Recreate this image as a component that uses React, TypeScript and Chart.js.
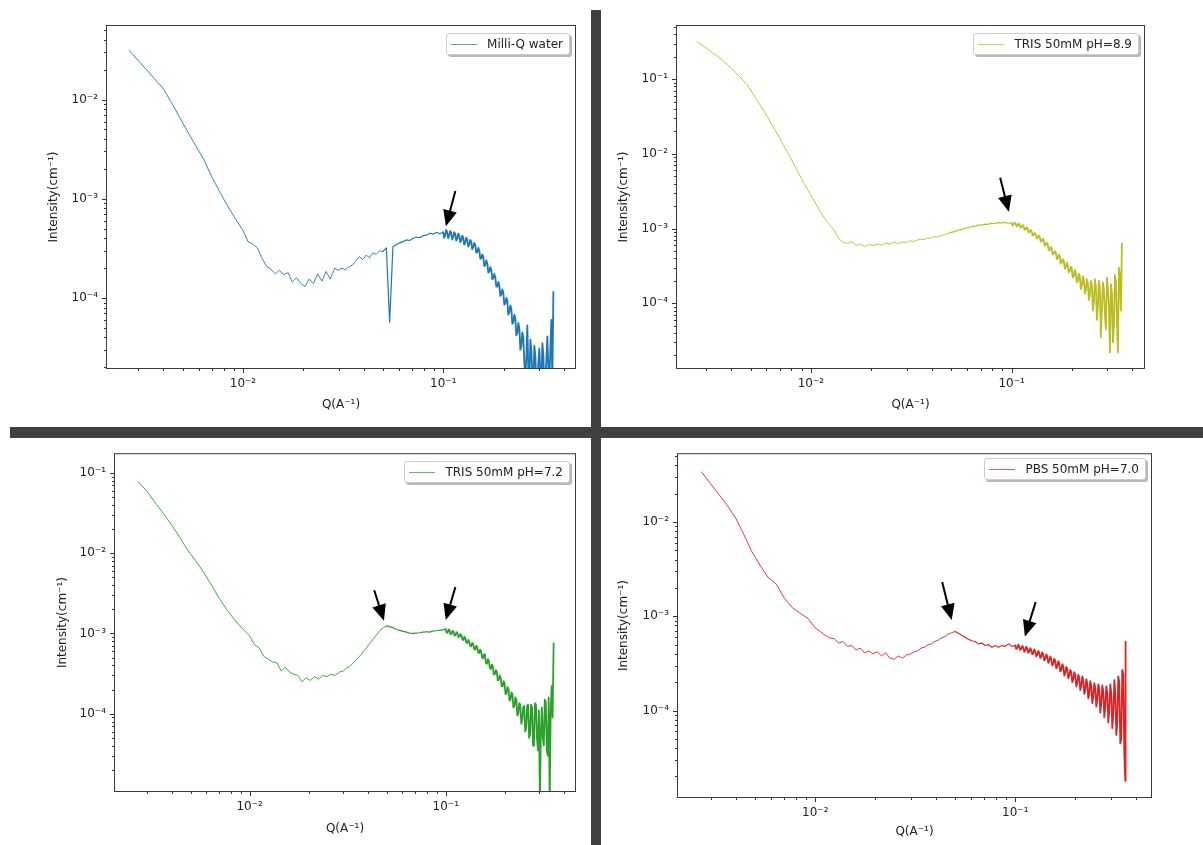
import React, { useEffect, useRef } from 'react';
import { Chart, registerables } from 'chart.js';

Chart.register(...registerables);
Chart.defaults.font.family = "'DejaVu Sans', 'Liberation Sans', sans-serif";

// ---------------- data ----------------
const Q = [
  0.0027, 0.0030, 0.0033, 0.0036, 0.0040, 0.0044, 0.0048, 0.0053, 0.0058, 0.0064, 0.0070, 0.0077, 0.0084, 0.0092,
  0.0100, 0.0106, 0.0112, 0.0118, 0.0124, 0.0131, 0.0138, 0.0145, 0.0152, 0.0160, 0.0168, 0.0176, 0.0185, 0.0194,
  0.0204, 0.0214, 0.0225, 0.0236, 0.0248, 0.0260, 0.0273, 0.0287,
  0.0300, 0.0312, 0.0325, 0.0338, 0.0352, 0.0366, 0.0381, 0.0396, 0.0412, 0.0428, 0.0445, 0.0463, 0.0481, 0.0500,
  0.0520, 0.0540, 0.0561, 0.0583, 0.0606, 0.0630, 0.0655, 0.0680, 0.0707, 0.0735, 0.0764, 0.0794, 0.0825, 0.0857,
  0.0891, 0.0926, 0.0962,
  0.1000, 0.1023, 0.1047, 0.1072, 0.1096, 0.1122, 0.1148, 0.1175, 0.1202, 0.1230,
  0.1259, 0.1288, 0.1318, 0.1349, 0.1380, 0.1413, 0.1445, 0.1479, 0.1514, 0.1549,
  0.1585, 0.1622, 0.1660, 0.1698, 0.1738, 0.1778, 0.1820, 0.1862, 0.1905, 0.1950,
  0.1995, 0.2042, 0.2089, 0.2138, 0.2188, 0.2239, 0.2291, 0.2344, 0.2399, 0.2455,
  0.2512, 0.2570, 0.2630, 0.2692, 0.2754, 0.2818, 0.2884, 0.2951, 0.3020, 0.3090,
  0.3162, 0.3236, 0.3311, 0.3388, 0.3467, 0.3548, 0.3560,
];

// extra high-Q samples lying between the points above (noisy region)
const Q_MID = [
  0.1011, 0.1035, 0.1059, 0.1084, 0.1109, 0.1135, 0.1161, 0.1188, 0.1216, 0.1244,
  0.1273, 0.1303, 0.1333, 0.1364, 0.1396, 0.1429, 0.1462, 0.1496, 0.1531, 0.1567,
  0.1603, 0.1641, 0.1679, 0.1718, 0.1758, 0.1799, 0.1841, 0.1883, 0.1927, 0.1972,
  0.2018, 0.2065, 0.2113, 0.2163, 0.2213, 0.2265, 0.2317, 0.2371, 0.2427, 0.2483,
  0.2541, 0.2600, 0.2661, 0.2723, 0.2786, 0.2851, 0.2917, 0.2985, 0.3055, 0.3126,
  0.3199, 0.3273, 0.3349, 0.3427, 0.3507,
];

const I_WATER = [
  3.14e-2, 2.47e-2, 2.00e-2, 1.64e-2, 1.29e-2, 9.31e-3, 6.76e-3, 4.72e-3, 3.46e-3, 2.44e-3, 1.65e-3, 1.15e-3, 8.38e-4, 6.23e-4,
  4.8e-4, 3.7e-4, 3.5e-4, 3.2e-4, 2.55e-4, 2.1e-4, 1.95e-4, 1.75e-4, 1.9e-4, 1.72e-4, 1.8e-4, 1.45e-4, 1.6e-4, 1.42e-4,
  1.3e-4, 1.55e-4, 1.4e-4, 1.75e-4, 1.48e-4, 1.85e-4, 1.55e-4, 2.0e-4,
  1.9e-4, 2.0e-4, 1.92e-4, 2.05e-4, 2.15e-4, 2.35e-4, 2.6e-4, 2.45e-4, 2.7e-4, 2.55e-4, 2.85e-4, 2.75e-4, 3.0e-4, 2.95e-4,
  3.2e-4, 5.7e-5, 3.3e-4, 3.45e-4, 3.6e-4, 3.7e-4, 3.85e-4, 3.8e-4, 4.0e-4, 4.1e-4, 4.05e-4, 4.25e-4, 4.3e-4, 4.5e-4,
  4.4e-4, 4.6e-4, 4.45e-4,
  4.6e-4, 4.3e-4, 4.6e-4, 4.25e-4, 4.5e-4, 4.15e-4, 4.4e-4, 4.0e-4, 4.25e-4, 3.8e-4,
  4.05e-4, 3.6e-4, 3.9e-4, 3.45e-4, 3.7e-4, 3.28e-4, 3.45e-4, 2.9e-4, 3.0e-4, 2.5e-4,
  2.58e-4, 2.15e-4, 2.23e-4, 1.85e-4, 1.92e-4, 1.57e-4, 1.62e-4, 1.3e-4, 1.36e-4, 1.08e-4,
  1.14e-4, 8.8e-5, 9.5e-5, 7.2e-5, 7.8e-5, 5.7e-5, 6.3e-5, 4.4e-5, 5.0e-5, 3.3e-5,
  4.0e-5, 1.6e-5, 5.3e-5, 1.4e-5, 3.0e-5, 1.2e-5, 2.6e-5, 1.3e-5, 3.1e-5, 1.1e-5,
  2.7e-5, 1.4e-5, 4.1e-5, 1.5e-5, 6.0e-5, 1.15e-4, null,
];
const I_WATER_MID = [
  4.05e-4, 4.85e-4, 4.0e-4, 4.75e-4, 3.9e-4, 4.6e-4, 3.8e-4, 4.45e-4, 3.65e-4, 4.25e-4,
  3.45e-4, 4.05e-4, 3.3e-4, 3.85e-4, 3.1e-4, 3.6e-4, 2.85e-4, 3.2e-4, 2.5e-4, 2.75e-4,
  2.1e-4, 2.4e-4, 1.8e-4, 2.05e-4, 1.55e-4, 1.75e-4, 1.3e-4, 1.45e-4, 1.05e-4, 1.22e-4,
  8.6e-5, 1.0e-4, 6.8e-5, 8.4e-5, 5.5e-5, 6.8e-5, 4.2e-5, 5.6e-5, 3.0e-5, 4.5e-5,
  2.2e-5, 2.5e-5, 1.8e-5, 3.8e-5, 1.7e-5, 3.3e-5, 1.5e-5, 2.2e-5, 1.8e-5, 3.5e-5,
  1.2e-5, 2.4e-5, 1.9e-5, 3.0e-5, 1.4e-5,
];

const I_TRIS89 = [
  0.32, 0.262, 0.217, 0.183, 0.1425, 0.109, 0.0847, 0.056, 0.0384, 0.0245, 0.0161, 0.01016, 0.00652, 0.00411,
  2.79e-3, 2.12e-3, 1.64e-3, 1.32e-3, 1.12e-3, 9.4e-4, 7.2e-4, 6.6e-4, 6.3e-4, 6.7e-4, 5.9e-4, 6.2e-4, 5.7e-4, 6.1e-4,
  5.9e-4, 6.2e-4, 6.0e-4, 6.4e-4, 6.2e-4, 6.6e-4, 6.3e-4, 6.6e-4,
  6.5e-4, 6.9e-4, 6.7e-4, 7.0e-4, 7.2e-4, 7.1e-4, 7.5e-4, 7.4e-4, 7.8e-4, 7.7e-4, 8.1e-4, 8.3e-4, 8.6e-4, 8.9e-4,
  9.1e-4, 9.5e-4, 9.7e-4, 1.01e-3, 1.02e-3, 1.06e-3, 1.07e-3, 1.11e-3, 1.11e-3, 1.15e-3, 1.14e-3, 1.18e-3, 1.17e-3, 1.20e-3,
  1.19e-3, 1.21e-3, 1.18e-3,
  1.19e-3, 1.14e-3, 1.17e-3, 1.10e-3, 1.13e-3, 1.05e-3, 1.08e-3, 9.8e-4, 1.0e-3, 9.0e-4,
  9.2e-4, 8.2e-4, 8.5e-4, 7.5e-4, 7.8e-4, 6.8e-4, 7.0e-4, 6.0e-4, 6.2e-4, 5.2e-4,
  5.4e-4, 4.6e-4, 4.8e-4, 4.0e-4, 4.3e-4, 3.5e-4, 3.7e-4, 3.0e-4, 3.3e-4, 2.7e-4,
  2.9e-4, 2.3e-4, 2.6e-4, 2.0e-4, 2.3e-4, 1.7e-4, 2.1e-4, 1.5e-4, 1.9e-4, 1.3e-4,
  1.8e-4, 1.0e-4, 1.7e-4, 9.0e-5, 1.6e-4, 8.0e-5, 1.5e-4, 4.5e-5, 1.6e-4, 2.2e-5,
  1.4e-4, 5.0e-5, 2.0e-4, 2.2e-5, 2.4e-4, 6.3e-4, null,
];
const I_TRIS89_MID = [
  1.10e-3, 1.21e-3, 1.07e-3, 1.17e-3, 1.03e-3, 1.12e-3, 9.6e-4, 1.04e-3, 8.9e-4, 9.6e-4,
  8.1e-4, 8.8e-4, 7.4e-4, 8.1e-4, 6.7e-4, 7.3e-4, 5.9e-4, 6.5e-4, 5.1e-4, 5.7e-4,
  4.5e-4, 5.0e-4, 3.9e-4, 4.5e-4, 3.4e-4, 3.9e-4, 2.9e-4, 3.5e-4, 2.6e-4, 3.1e-4,
  2.2e-4, 2.8e-4, 1.9e-4, 2.5e-4, 1.55e-4, 2.3e-4, 1.35e-4, 2.1e-4, 1.1e-4, 2.0e-4,
  8.0e-5, 2.1e-4, 6.0e-5, 2.0e-4, 3.5e-5, 1.9e-4, 7.0e-5, 2.2e-4, 9.0e-5, 1.8e-4,
  3.0e-5, 2.4e-4, 6.0e-5, 3.0e-4, 8.0e-5,
];

const I_TRIS72 = [
  0.078, 0.059, 0.0426, 0.0322, 0.0226, 0.0158, 0.0112, 0.0081, 0.0059, 0.0040, 0.00274, 0.00194, 0.00147, 0.00115,
  9.3e-4, 7.2e-4, 6.6e-4, 5.2e-4, 4.8e-4, 4.4e-4, 4.3e-4, 3.4e-4, 3.8e-4, 3.3e-4, 3.1e-4, 3.0e-4, 2.5e-4, 2.8e-4,
  2.6e-4, 2.9e-4, 2.7e-4, 3.0e-4, 2.9e-4, 3.1e-4, 3.0e-4, 3.3e-4,
  3.4e-4, 3.7e-4, 3.9e-4, 4.3e-4, 4.8e-4, 5.3e-4, 6.0e-4, 6.7e-4, 7.6e-4, 8.6e-4, 9.7e-4, 1.10e-3, 1.18e-3, 1.24e-3,
  1.21e-3, 1.18e-3, 1.12e-3, 1.09e-3, 1.06e-3, 1.04e-3, 1.01e-3, 1.00e-3, 1.01e-3, 1.02e-3, 1.04e-3, 1.05e-3, 1.04e-3, 1.07e-3,
  1.08e-3, 1.09e-3, 1.11e-3,
  1.13e-3, 1.03e-3, 1.09e-3, 9.9e-4, 1.05e-3, 9.5e-4, 1.01e-3, 9.1e-4, 9.5e-4, 8.3e-4,
  8.7e-4, 7.6e-4, 8.0e-4, 6.9e-4, 7.4e-4, 6.3e-4, 6.8e-4, 5.7e-4, 6.0e-4, 4.9e-4,
  5.2e-4, 4.2e-4, 4.5e-4, 3.6e-4, 3.9e-4, 3.1e-4, 3.35e-4, 2.65e-4, 2.8e-4, 2.2e-4,
  2.4e-4, 1.8e-4, 2.05e-4, 1.5e-4, 1.75e-4, 1.25e-4, 1.5e-4, 1.0e-4, 1.3e-4, 8.5e-5,
  1.25e-4, 6.5e-5, 1.3e-4, 5.5e-5, 1.2e-4, 4.5e-5, 1.3e-4, 3.5e-5, 8.0e-6, 1.2e-4,
  4.0e-5, 1.4e-4, 3.0e-5, 8.0e-6, 2.2e-4, 7.5e-4, null,
];
const I_TRIS72_MID = [
  1.02e-3, 1.12e-3, 9.8e-4, 1.08e-3, 9.4e-4, 1.04e-3, 9.0e-4, 9.8e-4, 8.4e-4, 9.1e-4,
  7.7e-4, 8.3e-4, 7.0e-4, 7.6e-4, 6.4e-4, 7.0e-4, 5.8e-4, 6.3e-4, 5.0e-4, 5.5e-4,
  4.3e-4, 4.8e-4, 3.7e-4, 4.1e-4, 3.1e-4, 3.5e-4, 2.6e-4, 3.0e-4, 2.2e-4, 2.55e-4,
  1.75e-4, 2.15e-4, 1.45e-4, 1.85e-4, 1.2e-4, 1.6e-4, 9.5e-5, 1.35e-4, 7.5e-5, 1.2e-4,
  6.0e-5, 1.25e-4, 5.0e-5, 1.3e-4, 4.0e-5, 1.35e-4, 5.0e-5, 1.1e-4, 6.0e-5, 5.0e-5,
  1.5e-4, 3.5e-5, 1.6e-4, 1.0e-4, 9.0e-5,
];

const I_PBS = [
  0.0341, 0.0255, 0.0196, 0.01545, 0.01105, 0.00735, 0.00493, 0.00347, 0.0026, 0.00219, 0.00156, 0.00123, 0.00108, 0.00095,
  7.5e-4, 6.9e-4, 6.3e-4, 5.9e-4, 5.8e-4, 5.2e-4, 5.4e-4, 4.8e-4, 4.9e-4, 4.4e-4, 4.6e-4, 4.1e-4, 4.3e-4, 4.0e-4,
  4.2e-4, 3.8e-4, 4.1e-4, 3.6e-4, 3.5e-4, 3.8e-4, 3.6e-4, 3.9e-4,
  4.0e-4, 4.2e-4, 4.3e-4, 4.6e-4, 4.7e-4, 5.0e-4, 5.1e-4, 5.4e-4, 5.6e-4, 5.9e-4, 6.1e-4, 6.5e-4, 6.7e-4, 6.9e-4,
  6.6e-4, 6.3e-4, 6.0e-4, 5.7e-4, 5.5e-4, 5.4e-4, 5.1e-4, 5.2e-4, 4.9e-4, 5.0e-4, 4.7e-4, 4.9e-4, 4.7e-4, 4.9e-4,
  4.8e-4, 5.1e-4, 4.8e-4,
  4.9e-4, 4.6e-4, 4.8e-4, 4.5e-4, 4.7e-4, 4.35e-4, 4.55e-4, 4.2e-4, 4.4e-4, 4.05e-4,
  4.25e-4, 3.9e-4, 4.1e-4, 3.75e-4, 3.95e-4, 3.55e-4, 3.75e-4, 3.35e-4, 3.55e-4, 3.15e-4,
  3.35e-4, 2.95e-4, 3.15e-4, 2.7e-4, 2.95e-4, 2.5e-4, 2.75e-4, 2.35e-4, 2.55e-4, 2.15e-4,
  2.4e-4, 1.95e-4, 2.25e-4, 1.8e-4, 2.1e-4, 1.65e-4, 1.95e-4, 1.5e-4, 1.85e-4, 1.4e-4,
  1.75e-4, 1.3e-4, 1.7e-4, 1.2e-4, 1.6e-4, 1.1e-4, 1.55e-4, 1.0e-4, 1.5e-4, 9.0e-5,
  1.55e-4, 7.5e-5, 2.0e-4, 5.0e-5, 2.4e-4, 1.8e-5, 5.4e-4,
];
const I_PBS_MID = [
  4.5e-4, 5.0e-4, 4.4e-4, 4.85e-4, 4.2e-4, 4.75e-4, 4.1e-4, 4.6e-4, 3.95e-4, 4.45e-4,
  3.75e-4, 4.3e-4, 3.6e-4, 4.15e-4, 3.4e-4, 3.95e-4, 3.2e-4, 3.75e-4, 3.0e-4, 3.55e-4,
  2.8e-4, 3.35e-4, 2.6e-4, 3.1e-4, 2.35e-4, 2.9e-4, 2.2e-4, 2.7e-4, 2.0e-4, 2.55e-4,
  1.8e-4, 2.4e-4, 1.65e-4, 2.3e-4, 1.5e-4, 2.15e-4, 1.35e-4, 2.05e-4, 1.2e-4, 1.95e-4,
  1.1e-4, 1.9e-4, 9.5e-5, 1.85e-4, 8.5e-5, 1.8e-4, 7.5e-5, 1.9e-4, 6.5e-5, 2.1e-4,
  5.5e-5, 2.3e-4, 4.5e-5, 2.7e-4, 3.5e-5,
];

const SERIES_NAMES = ['Milli-Q water', 'TRIS 50mM pH=8.9', 'TRIS 50mM pH=7.2', 'PBS 50mM pH=7.0'];

// arrow annotations: tail -> head, in data coordinates [Q, I]
const ARROWS_WATER = [{ tail: [0.115, 1.2e-3], head: [0.1031, 5.3e-4] }];
const ARROWS_TRIS89 = [{ tail: [0.0877, 4.79e-3], head: [0.0969, 1.68e-3] }];
const ARROWS_TRIS72 = [
  { tail: [0.0432, 3.46e-3], head: [0.0484, 1.44e-3] },
  { tail: [0.112, 3.8e-3], head: [0.1, 1.47e-3] },
];
const ARROWS_PBS = [
  { tail: [0.0431, 2.31e-3], head: [0.0481, 9.14e-4] },
  { tail: [0.1265, 1.42e-3], head: [0.1117, 6.11e-4] },
];

// axis ticks
const X_MAJOR = [0.01, 0.1];
const X_MAJOR_LABELS = ['10⁻²', '10⁻¹'];
const Y_MAJOR = [1e-4, 1e-3, 1e-2, 1e-1];
const Y_MAJOR_LABELS = ['10⁻⁴', '10⁻³', '10⁻²', '10⁻¹'];
const X_TITLE = 'Q(A⁻¹)';
const Y_TITLE = 'Intensity(cm⁻¹)';

// ---------------- layout / style ----------------
const COLORS = ['#1f77b4', '#bcbd22', '#2ca02c', '#d62728'];
const TEXT = '#222222';
const FONT_SIZE = 12;

const PANELS = [
  { name: SERIES_NAMES[0], I: I_WATER, Imid: I_WATER_MID, arrows: ARROWS_WATER, color: COLORS[0],
    left: 0, top: 0, width: 590, height: 426, pad: { left: 47, top: 26, right: 15, bottom: 14 },
    yAxisW: 60, xAxisH: 44, xMin: 0.002094, xMax: 0.455, yMin: 1.97e-5, yMax: 0.0552 },
  { name: SERIES_NAMES[1], I: I_TRIS89, Imid: I_TRIS89_MID, arrows: ARROWS_TRIS89, color: COLORS[1],
    left: 602, top: 0, width: 601, height: 426, pad: { left: 15, top: 26, right: 59, bottom: 14 },
    yAxisW: 60, xAxisH: 44, xMin: 0.00215, xMax: 0.457, yMin: 1.36e-5, yMax: 0.516 },
  { name: SERIES_NAMES[2], I: I_TRIS72, Imid: I_TRIS72_MID, arrows: ARROWS_TRIS72, color: COLORS[2],
    left: 0, top: 438, width: 590, height: 407, pad: { left: 56, top: 16, right: 15, bottom: 9 },
    yAxisW: 59, xAxisH: 45, xMin: 0.00206, xMax: 0.456, yMin: 1.09e-5, yMax: 0.171 },
  { name: SERIES_NAMES[3], I: I_PBS, Imid: I_PBS_MID, arrows: ARROWS_PBS, color: COLORS[3],
    left: 602, top: 438, width: 601, height: 407, pad: { left: 15, top: 13, right: 52, bottom: 6 },
    yAxisW: 61, xAxisH: 42, xMin: 0.00206, xMax: 0.477, yMin: 1.21e-5, yMax: 0.0525 },
];

// stroke weight by Q region: the dense, noisy high-Q samples render as a thicker band
function strokeFor(q: number) {
  if (q >= 0.1) return 1.8;
  if (q >= 0.05) return 1.2;
  return 0.9;
}

function logTicks(min: number, max: number) {
  const out: { value: number; major: boolean }[] = [];
  const e0 = Math.floor(Math.log10(min));
  const e1 = Math.ceil(Math.log10(max));
  for (let e = e0; e <= e1; e++) {
    for (let k = 1; k <= 9; k++) {
      const v = parseFloat((k * Math.pow(10, e)).toPrecision(6));
      if (v >= min && v <= max) out.push({ value: v, major: k === 1 });
    }
  }
  return out;
}

function labelFor(v: number, majors: number[], labels: string[]) {
  for (let i = 0; i < majors.length; i++) {
    if (Math.abs(v / majors[i] - 1) < 1e-6) return labels[i];
  }
  return '';
}

function Panel({ cfg }: { cfg: any }) {
  const ref = useRef<HTMLCanvasElement | null>(null);
  useEffect(() => {
    const main = Q.map((q, i) => ({ x: q, y: cfg.I[i] }));
    const mid = Q_MID.map((q, i) => ({ x: q, y: cfg.Imid[i] }));
    const points = main
      .concat(mid)
      .filter((p) => p.y !== null && p.y !== undefined)
      .sort((a, b) => a.x - b.x);
    const decor = {
      id: 'decor' + cfg.name,
      afterDraw(chart: any) {
        const { ctx, chartArea: a, scales } = chart;
        const xs = scales.x;
        const ys = scales.y;
        ctx.save();
        ctx.strokeStyle = '#333333';
        ctx.lineWidth = 1;
        ctx.beginPath();
        xs.ticks.forEach((t: any) => {
          const px = Math.round(xs.getPixelForValue(t.value)) + 0.5;
          const len = t.major ? 5 : 3;
          ctx.moveTo(px, a.bottom);
          ctx.lineTo(px, a.bottom + len);
        });
        ys.ticks.forEach((t: any) => {
          const py = Math.round(ys.getPixelForValue(t.value)) + 0.5;
          const len = t.major ? 5 : 3;
          ctx.moveTo(a.left, py);
          ctx.lineTo(a.left - len, py);
        });
        ctx.stroke();
        ctx.strokeStyle = '#3a3a3a';
        ctx.strokeRect(a.left - 0.5, a.top - 0.5, a.right - a.left + 1, a.bottom - a.top + 1);
        ctx.fillStyle = '#000000';
        ctx.strokeStyle = '#000000';
        cfg.arrows.forEach((ar: any) => {
          const x0 = xs.getPixelForValue(ar.tail[0]);
          const y0 = ys.getPixelForValue(ar.tail[1]);
          const x1 = xs.getPixelForValue(ar.head[0]);
          const y1 = ys.getPixelForValue(ar.head[1]);
          const dx = x1 - x0;
          const dy = y1 - y0;
          const L = Math.hypot(dx, dy);
          const ux = dx / L;
          const uy = dy / L;
          const hl = 16;
          const hw = 14;
          const bx = x1 - ux * hl;
          const by = y1 - uy * hl;
          ctx.lineWidth = 2;
          ctx.beginPath();
          ctx.moveTo(x0, y0);
          ctx.lineTo(bx + ux, by + uy);
          ctx.stroke();
          ctx.beginPath();
          ctx.moveTo(x1, y1);
          ctx.lineTo(bx - (uy * hw) / 2, by + (ux * hw) / 2);
          ctx.lineTo(bx + (uy * hw) / 2, by - (ux * hw) / 2);
          ctx.closePath();
          ctx.fill();
        });
        ctx.restore();
      },
    };
    const xTicks = logTicks(cfg.xMin, cfg.xMax);
    const yTicks = logTicks(cfg.yMin, cfg.yMax);
    const chart = new Chart(ref.current as HTMLCanvasElement, {
      type: 'line',
      data: {
        datasets: [
          {
            label: cfg.name,
            data: points,
            borderColor: cfg.color,
            borderWidth: 0.9,
            borderJoinStyle: 'round',
            borderCapStyle: 'round',
            pointRadius: 0,
            fill: false,
            tension: 0,
            segment: {
              borderWidth: (c: any) => strokeFor(c.p0.parsed.x),
            },
          },
        ],
      },
      options: {
        animation: false,
        responsive: false,
        maintainAspectRatio: false,
        events: [],
        layout: { padding: cfg.pad },
        plugins: { legend: { display: false }, tooltip: { enabled: false } },
        scales: {
          x: {
            type: 'logarithmic',
            position: 'bottom',
            min: cfg.xMin,
            max: cfg.xMax,
            grid: { display: false, drawTicks: false },
            border: { display: false },
            afterBuildTicks: (scale: any) => {
              scale.ticks = xTicks.map((t) => ({ value: t.value, major: t.major }));
            },
            afterFit: (scale: any) => {
              scale.height = cfg.xAxisH;
            },
            ticks: {
              autoSkip: false,
              maxRotation: 0,
              minRotation: 0,
              padding: 9,
              color: TEXT,
              font: { size: FONT_SIZE },
              callback: (v: any) => labelFor(Number(v), X_MAJOR, X_MAJOR_LABELS),
            },
            title: { display: true, text: X_TITLE, color: TEXT, font: { size: FONT_SIZE }, padding: 0 },
          },
          y: {
            type: 'logarithmic',
            position: 'left',
            min: cfg.yMin,
            max: cfg.yMax,
            grid: { display: false, drawTicks: false },
            border: { display: false },
            afterBuildTicks: (scale: any) => {
              scale.ticks = yTicks.map((t) => ({ value: t.value, major: t.major }));
            },
            afterFit: (scale: any) => {
              scale.width = cfg.yAxisW;
            },
            ticks: {
              autoSkip: false,
              padding: 9,
              color: TEXT,
              font: { size: FONT_SIZE },
              callback: (v: any) => labelFor(Number(v), Y_MAJOR, Y_MAJOR_LABELS),
            },
            title: { display: true, text: Y_TITLE, color: TEXT, font: { size: FONT_SIZE }, padding: 0 },
          },
        },
      } as any,
      plugins: [decor],
    });
    return () => chart.destroy();
  }, []);

  return (
    <div
      style={{
        position: 'absolute',
        left: cfg.left,
        top: cfg.top,
        width: cfg.width,
        height: cfg.height,
      }}
    >
      <canvas
        ref={ref}
        width={cfg.width}
        height={cfg.height}
        style={{ display: 'block', width: cfg.width, height: cfg.height }}
      />
      <div
        style={{
          position: 'absolute',
          top: cfg.pad.top + 7,
          right: cfg.pad.right + 5,
          height: 22,
          boxSizing: 'border-box',
          display: 'flex',
          alignItems: 'center',
          padding: '0 6px 0 4px',
          background: '#ffffff',
          border: '1px solid #cccccc',
          borderRadius: 3,
          boxShadow: '2px 2px 0 rgba(0,0,0,0.28)',
          fontFamily: "'DejaVu Sans', sans-serif",
          fontSize: 12,
          color: TEXT,
          whiteSpace: 'nowrap',
          lineHeight: '1',
        }}
      >
        <span
          style={{
            display: 'inline-block',
            width: 26,
            height: 0,
            borderTop: `1px solid ${cfg.color}`,
            opacity: 0.75,
            marginRight: 10,
          }}
        />
        <span>{cfg.name}</span>
      </div>
    </div>
  );
}

export default function App() {
  return (
    <div
      style={{
        position: 'fixed',
        left: 0,
        top: 0,
        width: 1203,
        height: 845,
        background: '#ffffff',
        overflow: 'hidden',
      }}
    >
      {PANELS.map((p) => (
        <Panel key={p.name} cfg={p} />
      ))}
      <div style={{ position: 'absolute', left: 591, top: 10, width: 10, height: 835, background: '#404040' }} />
      <div style={{ position: 'absolute', left: 10, top: 427, width: 1193, height: 11, background: '#404040' }} />
    </div>
  );
}
